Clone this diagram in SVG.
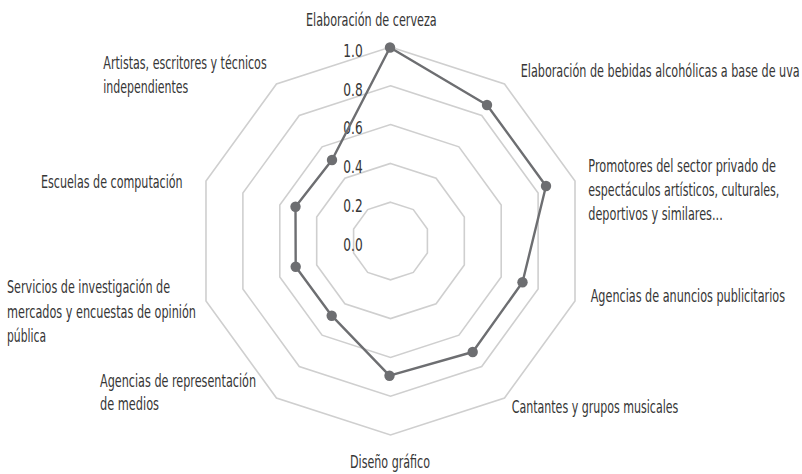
<svg xmlns="http://www.w3.org/2000/svg" width="802" height="474" viewBox="0 0 802 474">
<style>
.bg{fill:#ffffff}
.ring{fill:none;stroke:#cfcfcf;stroke-width:1.6}
.series{fill:none;stroke:#6d6e71;stroke-width:2.4;stroke-linejoin:round}
.pt{fill:#6d6e71}
.lbl{font-family:"Liberation Sans Narrow","DejaVu Sans Condensed","Liberation Sans",sans-serif;font-size:18px;fill:#363636}
.tick{font-family:"Liberation Sans Narrow","DejaVu Sans Condensed","Liberation Sans",sans-serif;font-size:18px;fill:#363636}
</style>
<rect class="bg" x="0" y="0" width="802" height="474"/>
<g id="grid">
<polygon class="ring" points="390.5,47 504.53,84.05 575.01,181.05 575.01,300.95 504.53,397.95 390.5,435 276.47,397.95 205.99,300.95 205.99,181.05 276.47,84.05"/>
<polygon class="ring" points="390.5,85.8 481.73,115.44 538.11,193.04 538.11,288.96 481.73,366.56 390.5,396.2 299.27,366.56 242.89,288.96 242.89,193.04 299.27,115.44"/>
<polygon class="ring" points="390.5,124.6 458.92,146.83 501.21,205.03 501.21,276.97 458.92,335.17 390.5,357.4 322.08,335.17 279.79,276.97 279.79,205.03 322.08,146.83"/>
<polygon class="ring" points="390.5,163.4 436.11,178.22 464.31,217.02 464.31,264.98 436.11,303.78 390.5,318.6 344.89,303.78 316.69,264.98 316.69,217.02 344.89,178.22"/>
<polygon class="ring" points="390.5,202.2 413.31,209.61 427.4,229.01 427.4,252.99 413.31,272.39 390.5,279.8 367.69,272.39 353.6,252.99 353.6,229.01 367.69,209.61"/>
</g>
<g id="ticks">
<text class="tick" transform="translate(343.3,56.7) scale(0.7,1)" textLength="27.7" lengthAdjust="spacingAndGlyphs">1.0</text>
<text class="tick" transform="translate(343.3,95.5) scale(0.7,1)" textLength="27.7" lengthAdjust="spacingAndGlyphs">0.8</text>
<text class="tick" transform="translate(343.3,134.3) scale(0.7,1)" textLength="27.7" lengthAdjust="spacingAndGlyphs">0.6</text>
<text class="tick" transform="translate(343.3,173.1) scale(0.7,1)" textLength="27.7" lengthAdjust="spacingAndGlyphs">0.4</text>
<text class="tick" transform="translate(343.3,211.9) scale(0.7,1)" textLength="27.7" lengthAdjust="spacingAndGlyphs">0.2</text>
<text class="tick" transform="translate(343.3,250.7) scale(0.7,1)" textLength="27.7" lengthAdjust="spacingAndGlyphs">0.0</text>
</g>
<g id="connectors">
<polygon class="series" points="390,47.5 487,105 546,186 522.5,282.3 472.7,352 389.5,375.7 331.7,315.7 295.7,266.7 295.5,206.7 332,160"/>
</g>
<g id="points">
<circle class="pt" cx="390" cy="47.5" r="5.2"/>
<circle class="pt" cx="487" cy="105" r="5.2"/>
<circle class="pt" cx="546" cy="186" r="5.2"/>
<circle class="pt" cx="522.5" cy="282.3" r="5.2"/>
<circle class="pt" cx="472.7" cy="352" r="5.2"/>
<circle class="pt" cx="389.5" cy="375.7" r="5.2"/>
<circle class="pt" cx="331.7" cy="315.7" r="5.2"/>
<circle class="pt" cx="295.7" cy="266.7" r="5.2"/>
<circle class="pt" cx="295.5" cy="206.7" r="5.2"/>
<circle class="pt" cx="332" cy="160" r="5.2"/>
</g>
<g id="label-cerveza"><text class="lbl" transform="translate(306,26) scale(0.7,1)" textLength="186.7" lengthAdjust="spacingAndGlyphs">Elaboración de cerveza</text></g>
<g id="label-uva"><text class="lbl" transform="translate(520.7,76.7) scale(0.7,1)" textLength="398.6" lengthAdjust="spacingAndGlyphs">Elaboración de bebidas alcohólicas a base de uva</text></g>
<g id="label-promotores">
<text class="lbl" transform="translate(588.3,171.7) scale(0.7,1)" textLength="268.1" lengthAdjust="spacingAndGlyphs">Promotores del sector privado de</text>
<text class="lbl" transform="translate(588.3,196) scale(0.7,1)" textLength="272.9" lengthAdjust="spacingAndGlyphs">espectáculos artísticos, culturales,</text>
<text class="lbl" transform="translate(588.3,220) scale(0.7,1)" textLength="192" lengthAdjust="spacingAndGlyphs">deportivos y similares...</text>
</g>
<g id="label-anuncios"><text class="lbl" transform="translate(590.7,301.7) scale(0.7,1)" textLength="277.6" lengthAdjust="spacingAndGlyphs">Agencias de anuncios publicitarios</text></g>
<g id="label-cantantes"><text class="lbl" transform="translate(511.7,413.3) scale(0.7,1)" textLength="238" lengthAdjust="spacingAndGlyphs">Cantantes y grupos musicales</text></g>
<g id="label-diseno"><text class="lbl" transform="translate(350,467.7) scale(0.7,1)" textLength="114.3" lengthAdjust="spacingAndGlyphs">Diseño gráfico</text></g>
<g id="label-representacion">
<text class="lbl" transform="translate(100,386.7) scale(0.7,1)" textLength="222.9" lengthAdjust="spacingAndGlyphs">Agencias de representación</text>
<text class="lbl" transform="translate(100,410) scale(0.7,1)" textLength="84.3" lengthAdjust="spacingAndGlyphs">de medios</text>
</g>
<g id="label-investigacion">
<text class="lbl" transform="translate(7,293.3) scale(0.7,1)" textLength="232.9" lengthAdjust="spacingAndGlyphs">Servicios de investigación de</text>
<text class="lbl" transform="translate(7,317.7) scale(0.7,1)" textLength="270" lengthAdjust="spacingAndGlyphs">mercados y encuestas de opinión</text>
<text class="lbl" transform="translate(7,341.5) scale(0.7,1)" textLength="55.7" lengthAdjust="spacingAndGlyphs">pública</text>
</g>
<g id="label-computacion"><text class="lbl" transform="translate(41,187.7) scale(0.7,1)" textLength="202.4" lengthAdjust="spacingAndGlyphs">Escuelas de computación</text></g>
<g id="label-artistas">
<text class="lbl" transform="translate(103.3,69.3) scale(0.7,1)" textLength="233.4" lengthAdjust="spacingAndGlyphs">Artistas, escritores y técnicos</text>
<text class="lbl" transform="translate(103.3,93.3) scale(0.7,1)" textLength="121.4" lengthAdjust="spacingAndGlyphs">independientes</text>
</g>
</svg>
